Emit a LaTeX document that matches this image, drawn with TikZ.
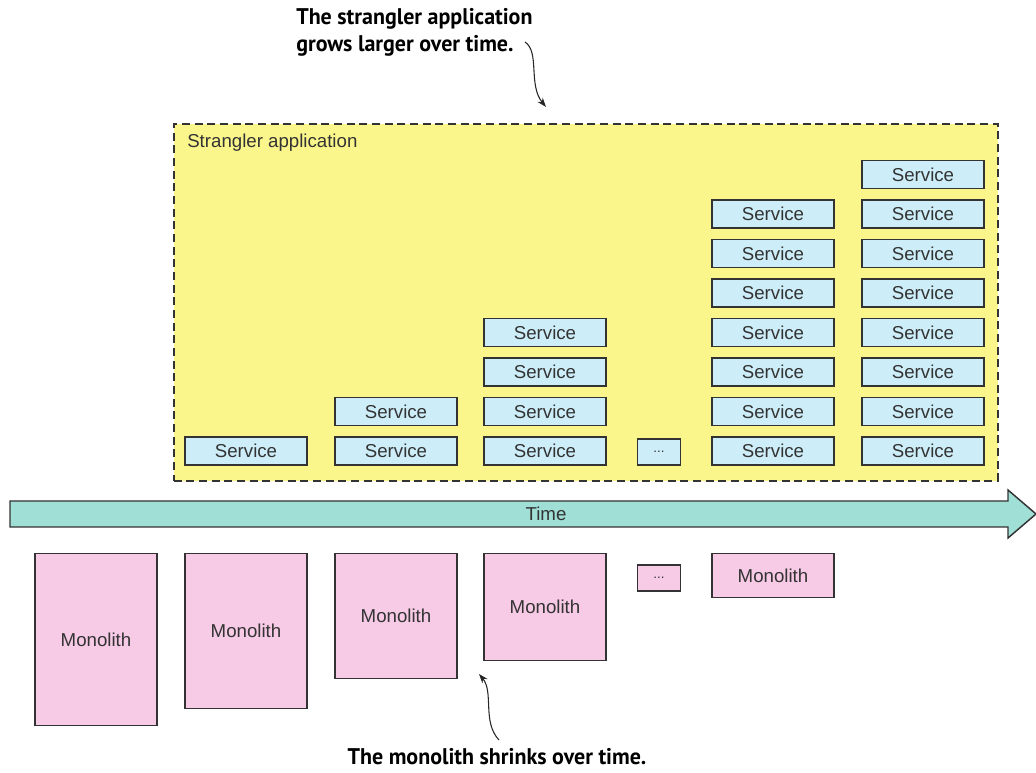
\documentclass[tikz,border=0pt]{standalone}
\usepackage{fontspec}
\setmainfont{Liberation Sans}
\newfontfamily\notefont[FakeStretch=0.97]{PT Sans}
\usetikzlibrary{arrows.meta}
\definecolor{appyellow}{HTML}{FAF68C}
\definecolor{svcblue}{HTML}{CDEEF9}
\definecolor{monopink}{HTML}{F7CAE6}
\definecolor{timeteal}{HTML}{A0DFD5}
\definecolor{edgegray}{HTML}{333333}
\begin{document}
\begin{tikzpicture}[
		x=0.75pt, y=-0.75pt,
		every node/.style={font=\fontsize{14}{16}\selectfont, text=black!80},
		svc/.style={draw=edgegray, fill=svcblue, line width=1.1pt, minimum width=91.5pt, minimum height=21pt, inner sep=0pt},
		mono/.style={draw=edgegray, fill=monopink, line width=1.1pt, minimum width=91.5pt, inner sep=0pt},
		dots/.style={draw=edgegray, line width=1.1pt, minimum width=32pt, minimum height=19.5pt, inner sep=0pt},
		note/.style={font=\notefont\bfseries\fontsize{17}{20}\selectfont, text=black, align=left, inner sep=0pt},
		curl/.style={-{Stealth[length=7pt,width=5pt]}, line width=0.8pt, black!85}
		]
		\useasboundingbox (0,0) rectangle (1036,773);
		\node[draw=edgegray, dash pattern=on 6pt off 3.5pt, line width=1.2pt, fill=appyellow, minimum width=618pt, minimum height=267.75pt, inner sep=0pt, anchor=north west] (app) at (173,123) {};
		\node[anchor=west, inner sep=0pt] (applabel) at (187,143) {Strangler application};
		\foreach \x/\n [count=\c] in {246/1,396/2,545/4,773/7,923/8}
			\foreach \r in {1,...,\n}
				\node[svc] (s\c-\r) at (\x, {451-39.5*(\r-1)}) {Service};
		\node[dots, fill=svcblue] (sdots) at (659,452) {\fontsize{10}{12}\selectfont...};
		\fill[timeteal, draw=edgegray, line width=1.1pt] (10,501) -- (1008,501) -- (1008,490) -- (1036,514) -- (1008,538) -- (1008,527) -- (10,527) -- cycle;
		\node (time) at (546,514) {Time};
		\foreach \x/\h/\n in {96/172/1,246/155/2,396/125/3,545/107/4,773/44/6}
			\node[mono, minimum height={\h*0.75pt}, anchor=north] (m\n) at (\x,553) {Monolith};
		\node[dots, fill=monopink] (mdots) at (659,578) {\fontsize{10}{12}\selectfont...};
		\node[note, anchor=north west] (grow) at (296,8) {The strangler application\\grows larger over time.};
		\node[note, anchor=north] (shrink) at (497,748) {The monolith shrinks over time.};
		\coordinate (growfrom) at (525,42);
		\coordinate (growto) at (546,107);
		\coordinate (shrinkfrom) at (499,740);
		\coordinate (shrinkto) at (479,674);
		\draw[curl] (growfrom) .. controls (540,52) and (528,85) .. (growto);
		\draw[curl] (shrinkfrom) .. controls (482,722) and (494,692) .. (shrinkto);
	\end{tikzpicture}
\end{document}
